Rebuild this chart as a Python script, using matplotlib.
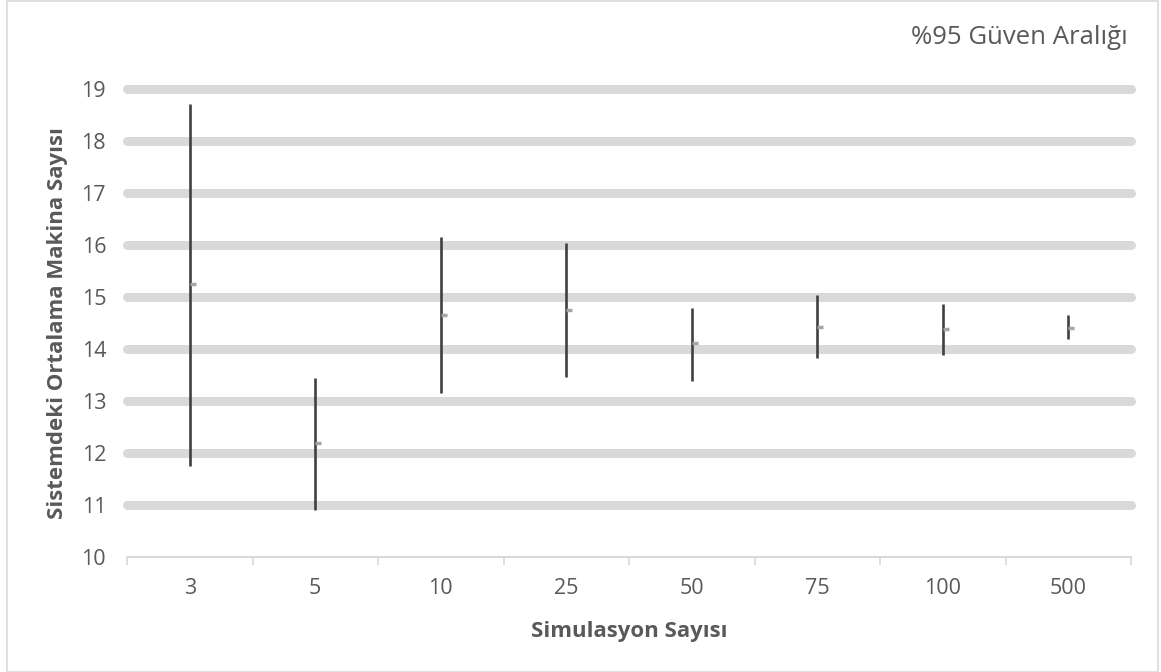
import matplotlib.pyplot as plt
import matplotlib as mpl
from matplotlib.patches import Rectangle

mpl.rcParams['font.family'] = ['Open Sans', 'DejaVu Sans']

# data
categories = ['3', '5', '10', '25', '50', '75', '100', '500']
upper = [18.71, 13.44, 16.15, 16.04, 14.78, 15.04, 14.87, 14.65]
lower = [11.75, 10.90, 13.15, 13.47, 13.38, 13.83, 13.88, 14.20]
mean = [15.25, 12.19, 14.65, 14.75, 14.11, 14.43, 14.38, 14.41]

text_col = '#595959'
grid_col = '#d9d9d9'

fig = plt.figure(figsize=(11.61, 6.72), dpi=100)
fig.patches.append(Rectangle((7 / 1161, 0), 1151 / 1161, 671 / 672,
                             transform=fig.transFigure, fill=False,
                             edgecolor=grid_col, linewidth=1.2))
ax = fig.add_axes([127 / 1161, 115 / 672, 1004 / 1161, 468 / 672])

x = list(range(len(categories)))
ax.vlines(x, lower, upper, color='#404040', linewidth=1.9, zorder=3)
ax.plot(x, mean, linestyle='none', marker=1, markersize=4,
        markeredgewidth=2.5, color='#a6a6a6', zorder=4)

ax.set_xlim(-0.5, len(categories) - 0.5)
ax.set_ylim(10, 19)
ax.set_yticks(range(10, 20))
ax.set_xticks(x)
ax.set_xticklabels(categories)
ax.set_xticks([i - 0.5 for i in range(len(categories) + 1)], minor=True)

ax.tick_params(axis='y', length=0, pad=15, labelsize=15.5, labelcolor=text_col)
ax.tick_params(axis='x', which='major', length=0, pad=15, labelsize=15.5,
               labelcolor=text_col)
ax.tick_params(axis='x', which='minor', length=6, width=1.2, color=grid_col)

for s in ['top', 'right', 'left']:
    ax.spines[s].set_visible(False)
ax.spines['bottom'].set_color(grid_col)
ax.spines['bottom'].set_linewidth(1.5)

ax.yaxis.grid(True, color=grid_col, linewidth=6.5, solid_capstyle='round')
ax.set_axisbelow(True)
for gl in ax.get_ygridlines()[1:]:
    gl.set_clip_on(False)
ax.get_ygridlines()[0].set_visible(False)

ax.set_xlabel('Simulasyon Sayısı', fontsize=16, fontweight='bold',
              color=text_col, labelpad=16)
ax.set_ylabel('Sistemdeki Ortalama Makina Sayısı', fontsize=16,
              fontweight='bold', color=text_col, labelpad=10)
fig.text(1128 / 1161, 1 - 38 / 672, '%95 Güven Aralığı', ha='right',
         va='center', fontsize=18.5, color=text_col)

fig.savefig('out.png', dpi=100)
